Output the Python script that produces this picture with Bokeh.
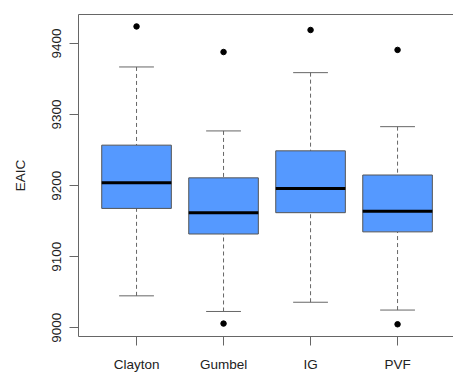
from bokeh.plotting import figure
from bokeh.models import Range1d, FixedTicker, LinearAxis, ColumnDataSource
from bokeh.embed import file_html
from bokeh.resources import INLINE

categories = ["Clayton", "Gumbel", "IG", "PVF"]
lower_whisker = [9045, 9023, 9036, 9025]
q1 = [9168, 9132, 9162, 9135]
median = [9204, 9162, 9196, 9164]
q3 = [9257, 9211, 9249, 9215]
upper_whisker = [9367, 9277, 9359, 9283]
outlier_cat = ["Clayton", "Gumbel", "Gumbel", "IG", "PVF", "PVF"]
outlier_val = [9424, 9388, 9006, 9419, 9391, 9005]
y_ticks = [9000, 9100, 9200, 9300, 9400]

pos = [i + 1 for i in range(len(categories))]
opos = [categories.index(c) + 1 for c in outlier_cat]

FONT = "Liberation Sans"
FS = "13.5px"

p = figure(width=453, height=374, output_backend="svg", toolbar_location=None,
           x_range=Range1d(0.333, 4.643), y_range=Range1d(8987.8, 9440.8),
           min_border_left=78, min_border_right=0, min_border_top=14, min_border_bottom=36,
           x_axis_location=None, y_axis_location=None)
p.grid.visible = False
p.outline_line_color = None
p.background_fill_color = "white"
p.border_fill_color = "white"

src = ColumnDataSource(dict(x=pos, lw=lower_whisker, q1=q1, med=median, q3=q3, uw=upper_whisker,
                            l=[x - 0.4 for x in pos], r=[x + 0.4 for x in pos],
                            cl=[x - 0.2 for x in pos], cr=[x + 0.2 for x in pos]))

# whiskers
p.segment(x0="x", y0="uw", x1="x", y1="q3", source=src, line_color="#666666", line_width=1, line_dash="4 3")
p.segment(x0="x", y0="lw", x1="x", y1="q1", source=src, line_color="#666666", line_width=1, line_dash="4 3")
# caps
p.segment(x0="cl", y0="uw", x1="cr", y1="uw", source=src, line_color="#666666", line_width=1)
p.segment(x0="cl", y0="lw", x1="cr", y1="lw", source=src, line_color="#666666", line_width=1)
# boxes
p.quad(left="l", right="r", bottom="q1", top="q3", source=src, fill_color="#5599ff",
       line_color="#555555", line_width=1)
# medians
p.segment(x0="l", y0="med", x1="r", y1="med", source=src, line_color="black", line_width=3)
# outliers
p.scatter(x=opos, y=outlier_val, size=5.5, color="black")

ax_col = "#666666"
yaxis = LinearAxis(ticker=FixedTicker(ticks=y_ticks), axis_label="EAIC")
yaxis.major_label_orientation = "vertical"
yaxis.major_tick_out = 9
yaxis.major_tick_in = 0
yaxis.minor_tick_out = 0
yaxis.minor_tick_in = 0
yaxis.major_label_standoff = 8
yaxis.axis_label_standoff = 22
p.add_layout(yaxis, "left")

xaxis = LinearAxis(ticker=FixedTicker(ticks=pos),
                   major_label_overrides={x: c for x, c in zip(pos, categories)})
xaxis.major_tick_out = 9
xaxis.major_tick_in = 0
xaxis.minor_tick_out = 0
xaxis.minor_tick_in = 0
xaxis.major_label_standoff = 11
p.add_layout(xaxis, "below")

top = LinearAxis(ticker=FixedTicker(ticks=[]), major_tick_out=0, major_tick_in=0,
                 minor_tick_out=0, minor_tick_in=0, major_label_text_font_size="0px")
p.add_layout(top, "above")

for a in [yaxis, xaxis, top]:
    a.axis_line_color = ax_col
    a.major_tick_line_color = ax_col
    a.major_label_text_font = FONT
    a.major_label_text_color = "#222222"
    a.axis_label_text_font = FONT
    a.axis_label_text_font_style = "normal"
    a.axis_label_text_color = "#222222"
    if a is not top:
        a.major_label_text_font_size = FS
        a.axis_label_text_font_size = FS

open("out.html", "w").write(file_html(p, INLINE))
